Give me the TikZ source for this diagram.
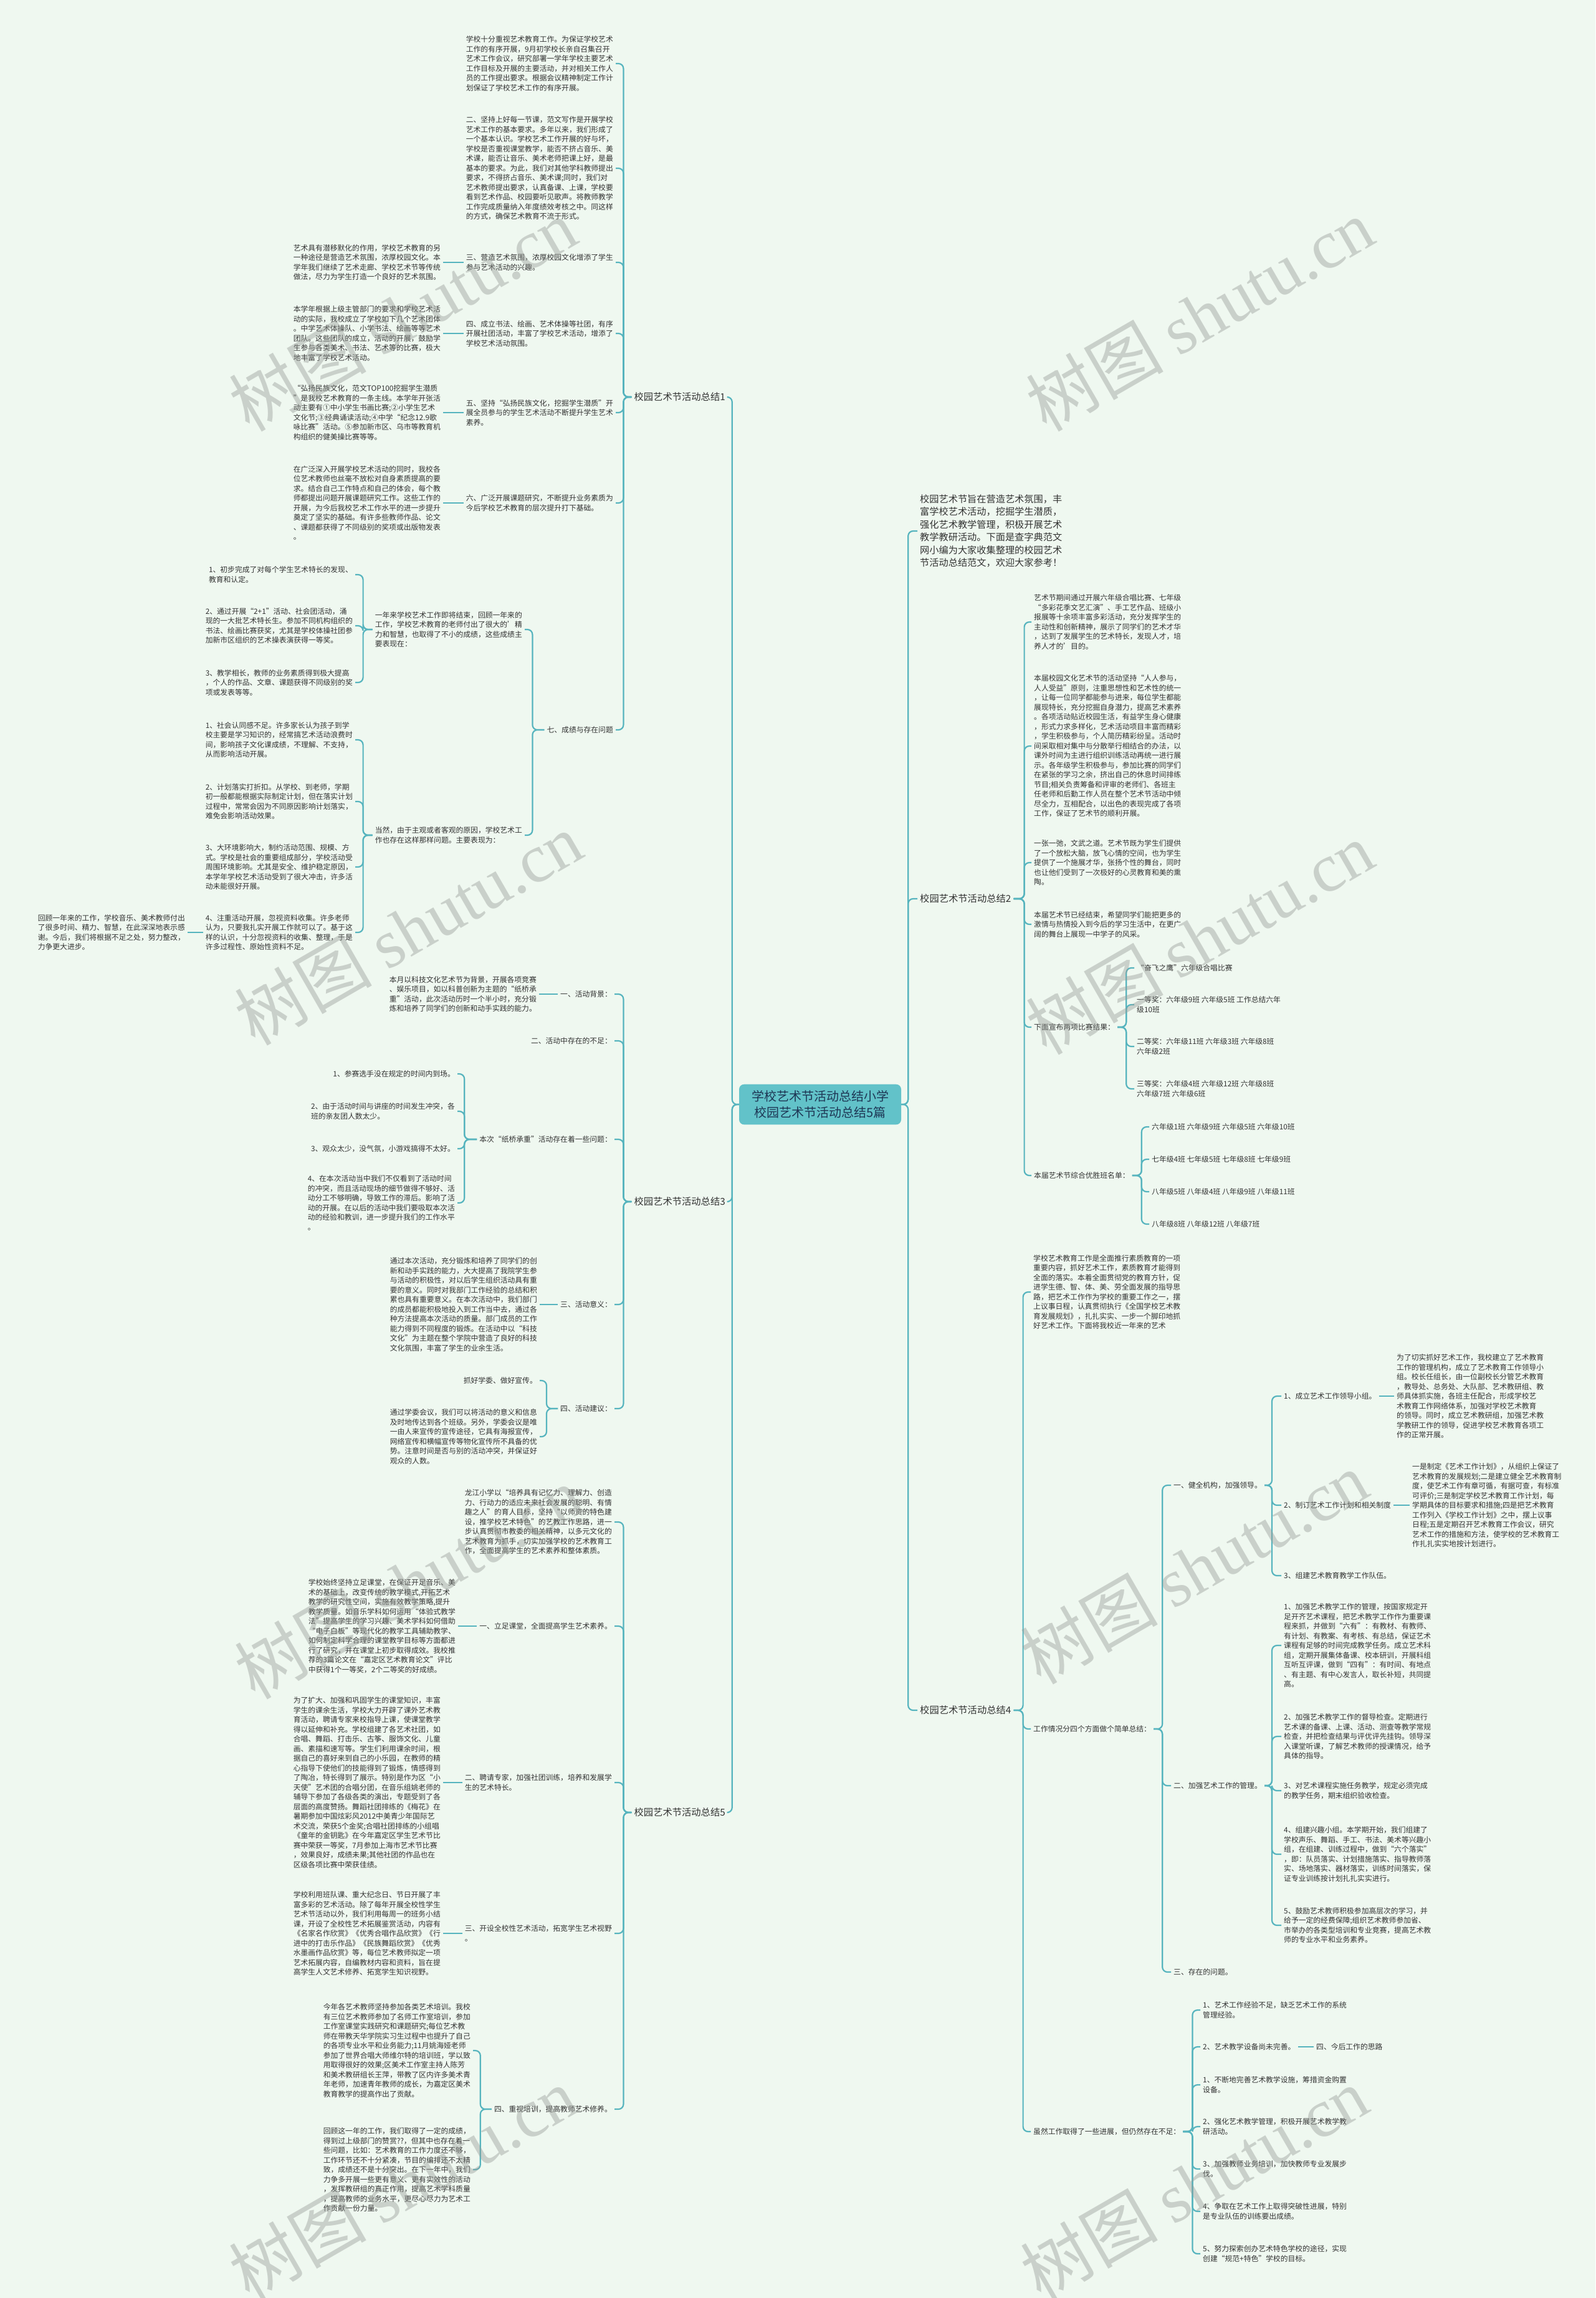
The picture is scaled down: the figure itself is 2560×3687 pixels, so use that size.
\documentclass[tikz,border=0pt]{standalone}
\usepackage{fontspec}
\setmainfont{Noto Sans CJK SC}
\newfontfamily\wmlat{Liberation Serif}
\definecolor{bg}{RGB}{239,248,240}
\definecolor{lc}{RGB}{86,180,190}
\definecolor{tc}{RGB}{51,51,51}
\definecolor{cf}{RGB}{98,194,201}
\definecolor{ct}{RGB}{30,55,85}
\definecolor{wm}{RGB}{150,155,150}
\newcommand\Lk[3]{\draw[conn] (#1.west) -- ++(-#3,0) |- (#2.east);}
\newcommand\Rk[3]{\draw[conn] (#1.east) -- ++(#3,0) |- (#2.west);}
\newcommand\Ls[2]{\draw[conn] (#1.west) -- (#2.east |- #1.west);}
\newcommand\Rs[2]{\draw[conn] (#1.east) -- (#2.west |- #1.east);}
\begin{document}
\begin{tikzpicture}[x=1pt,y=-1pt,
 t/.style={inner sep=4pt, align=left, text=tc, font=\fontsize{11.8}{15.5}\selectfont},
 L/.style={t, anchor=east}, R/.style={t, anchor=west},
 ttl/.style={inner sep=4pt, text=tc, font=\fontsize{15.3}{19}\selectfont},
 conn/.style={draw=lc, line width=2.2pt, rounded corners=8pt},
 wmk/.style={rotate=30, text=wm, text opacity=0.42, font=\fontsize{110}{120}\selectfont}]
\useasboundingbox (0,0) rectangle (2560,3687);
\fill[bg] (0,0) rectangle (2560,3687);

% centre
\node[fill=cf, rounded corners=8pt, inner xsep=20pt, inner ysep=10pt, align=center, text=ct,
  font=\fontsize{20}{26}\selectfont] (M) at (1316,1772) {学校艺术节活动总结小学\\校园艺术节活动总结5篇};

% titles
\node[ttl, anchor=east] (T1) at (1168,637) {校园艺术节活动总结1};
\node[ttl, anchor=east] (T3) at (1168,1928) {校园艺术节活动总结3};
\node[ttl, anchor=east] (T5) at (1168,2908) {校园艺术节活动总结5};
\node[t, anchor=west, font=\fontsize{15.2}{20.5}\selectfont] (IN) at (1472,852) {校园艺术节旨在营造艺术氛围，丰\\富学校艺术活动，挖掘学生潜质，\\强化艺术教学管理，积极开展艺术\\教学教研活动。下面是查字典范文\\网小编为大家收集整理的校园艺术\\节活动总结范文，欢迎大家参考！};
\node[ttl, anchor=west] (T2) at (1472,1442) {校园艺术节活动总结2};
\node[ttl, anchor=west] (T4) at (1472,2744) {校园艺术节活动总结4};

\foreach \n in {T1,T3,T5} {\draw[conn] (M.west) -- ++(-11,0) |- (\n.east);}
\foreach \n in {IN,T2,T4} {\draw[conn] (M.east) -- ++(11,0) |- (\n.west);}

% ---------- branch 1 ----------
\node[L] (A) at (988,102) {学校十分重视艺术教育工作。为保证学校艺术\\工作的有序开展，9月初学校长亲自召集召开\\艺术工作会议，研究部署一学年学校主要艺术\\工作目标及开展的主要活动，并对相关工作人\\员的工作提出要求。根据会议精神制定工作计\\划保证了学校艺术工作的有序开展。};
\node[L] (B) at (988,270) {二、坚持上好每一节课，范文写作是开展学校\\艺术工作的基本要求。多年以来，我们形成了\\一个基本认识。学校艺术工作开展的好与坏，\\学校是否重视课堂教学，能否不挤占音乐、美\\术课，能否让音乐、美术老师把课上好，是最\\基本的要求。为此，我们对其他学科教师提出\\要求，不得挤占音乐、美术课;同时，我们对\\艺术教师提出要求，认真备课、上课，学校要\\看到艺术作品、校园要听见歌声。将教师教学\\工作完成质量纳入年度绩效考核之中。同这样\\的方式，确保艺术教育不流于形式。};
\node[L] (C) at (988,421) {三、营造艺术氛围，浓厚校园文化增添了学生\\参与艺术活动的兴趣。};
\node[L] (D) at (988,535) {四、成立书法、绘画、艺术体操等社团，有序\\开展社团活动，丰富了学校艺术活动，增添了\\学校艺术活动氛围。};
\node[L] (E) at (988,662) {五、坚持“弘扬民族文化，挖掘学生潜质”开\\展全员参与的学生艺术活动不断提升学生艺术\\素养。};
\node[L] (F) at (988,807) {六、广泛开展课题研究，不断提升业务素质为\\今后学校艺术教育的层次提升打下基础。};
\node[L] (G) at (988,1171) {七、成绩与存在问题};
\node[L] (Cc) at (711,421) {艺术具有潜移默化的作用，学校艺术教育的另\\一种途径是营造艺术氛围，浓厚校园文化。本\\学年我们继续了艺术走廊、学校艺术节等传统\\做法，尽力为学生打造一个良好的艺术氛围。};
\node[L] (Dc) at (711,535) {本学年根据上级主管部门的要求和学校艺术活\\动的实际，我校成立了学校如下几个艺术团体\\。中学艺术体操队、小学书法、绘画等等艺术\\团队。这些团队的成立，活动的开展，鼓励学\\生参与各类美术、书法、艺术等的比赛，极大\\地丰富了学校艺术活动。};
\node[L] (Ec) at (711,662) {“弘扬民族文化，范文TOP100挖掘学生潜质\\”是我校艺术教育的一条主线。本学年开张活\\动主要有①中小学生书画比赛;②小学生艺术\\文化节;③经典诵读活动;④中学“纪念12.9歌\\咏比赛”活动。⑤参加新市区、乌市等教育机\\构组织的健美操比赛等等。};
\node[L] (Fc) at (711,807) {在广泛深入开展学校艺术活动的同时，我校各\\位艺术教师也丝毫不放松对自身素质提高的要\\求。结合自己工作特点和自己的体会，每个教\\师都提出问题开展课题研究工作。这些工作的\\开展，为今后我校艺术工作水平的进一步提升\\奠定了坚实的基础。有许多些教师作品、论文\\、课题都获得了不同级别的奖项或出版物发表\\。};
\node[L] (G1) at (842,1010) {一年来学校艺术工作即将结束，回顾一年来的\\工作，学校艺术教育的老师付出了很大的'精\\力和智慧，也取得了不小的成绩，这些成绩主\\要表现在：};
\node[L] (G2) at (842,1340) {当然，由于主观或者客观的原因，学校艺术工\\作也存在这样那样问题。主要表现为：};
\node[L] (G1a) at (570,922) {1、初步完成了对每个学生艺术特长的发现、\\教育和认定。};
\node[L] (G1b) at (570,1004) {2、通过开展“2+1”活动、社会团活动，涌\\现的一大批艺术特长生。参加不同机构组织的\\书法、绘画比赛获奖，尤其是学校体操社团参\\加新市区组织的艺术操表演获得一等奖。};
\node[L] (G1c) at (570,1095) {3、教学相长，教师的业务素质得到极大提高\\，个人的作品、文章、课题获得不同级别的奖\\项或发表等等。};
\node[L] (G2a) at (570,1187) {1、社会认同感不足。许多家长认为孩子到学\\校主要是学习知识的，经常搞艺术活动浪费时\\间，影响孩子文化课成绩，不理解、不支持，\\从而影响活动开展。};
\node[L] (G2b) at (570,1286) {2、计划落实打折扣。从学校、到老师，学期\\初一般都能根据实际制定计划，但在落实计划\\过程中，常常会因为不同原因影响计划落实，\\难免会影响活动效果。};
\node[L] (G2c) at (570,1391) {3、大环境影响大，制约活动范围、规模、方\\式。学校是社会的重要组成部分，学校活动受\\周围环境影响。尤其是安全、维护稳定原因，\\本学年学校艺术活动受到了很大冲击，许多活\\动未能很好开展。};
\node[L] (G2d) at (570,1496) {4、注重活动开展，忽视资料收集。许多老师\\认为，只要我扎实开展工作就可以了。基于这\\样的认识，十分忽视资料的收集、整理，于是\\许多过程性、原始性资料不足。};
\node[L] (G2dc) at (301,1496) {回顾一年来的工作，学校音乐、美术教师付出\\了很多时间、精力、智慧，在此深深地表示感\\谢。今后，我们将根据不足之处，努力整改，\\力争更大进步。};
\foreach \n in {A,B,C,D,E,F,G} {\Lk{T1}{\n}{13}}
\foreach \n in {C,D,E,F} {\Ls{\n}{\n c}}
\Lk{G}{G1}{19} \Lk{G}{G2}{19}
\foreach \n in {G1a,G1b,G1c} {\Lk{G1}{\n}{15}}
\foreach \n in {G2a,G2b,G2c,G2d} {\Lk{G2}{\n}{15}}
\Ls{G2d}{G2dc}

% ---------- branch 3 ----------
\node[L] (H1) at (986,1595) {一、活动背景：};
\node[L] (H1c) at (865,1595) {本月以科技文化艺术节为背景，开展各项竞赛\\、娱乐项目，如以科普创新为主题的“纸桥承\\重”活动，此次活动历时一个半小时，充分锻\\炼和培养了同学们的创新和动手实践的能力。};
\node[L] (H2) at (986,1670) {二、活动中存在的不足：};
\node[L] (H3) at (986,1828) {本次“纸桥承重”活动存在着一些问题：};
\node[L] (H3a) at (734,1723) {1、参赛选手没在规定的时间内到场。};
\node[L] (H3b) at (734,1783) {2、由于活动时间与讲座的时间发生冲突，各\\班的亲友团人数太少。};
\node[L] (H3c) at (734,1843) {3、观众太少，没气氛，小游戏搞得不太好。};
\node[L] (H3d) at (734,1930) {4、在本次活动当中我们不仅看到了活动时间\\的冲突，而且活动现场的细节做得不够好、活\\动分工不够明确，导致工作的滞后。影响了活\\动的开展。在以后的活动中我们要吸取本次活\\动的经验和教训，进一步提升我们的工作水平\\。};
\node[L] (H4) at (986,2093) {三、活动意义：};
\node[L] (H4c) at (866,2093) {通过本次活动，充分锻炼和培养了同学们的创\\新和动手实践的能力，大大提高了我院学生参\\与活动的积极性，对以后学生组织活动具有重\\要的意义。同时对我部门工作经验的总结和积\\累也具有重要意义。在本次活动中，我们部门\\的成员都能积极地投入到工作当中去，通过各\\种方法提高本次活动的质量。部门成员的工作\\能力得到不同程度的锻炼。在活动中以“科技\\文化”为主题在整个学院中营造了良好的科技\\文化氛围，丰富了学生的业余生活。};
\node[L] (H5) at (986,2260) {四、活动建议：};
\node[L] (H5a) at (866,2215) {抓好学委、做好宣传。};
\node[L] (H5b) at (866,2305) {通过学委会议，我们可以将活动的意义和信息\\及时地传达到各个班级。另外，学委会议是唯\\一由人来宣传的宣传途径，它具有海报宣传，\\网络宣传和横幅宣传等物化宣传所不具备的优\\势。注意时间是否与别的活动冲突，并保证好\\观众的人数。};
\foreach \n in {H1,H2,H3,H4,H5} {\Lk{T3}{\n}{13}}
\Ls{H1}{H1c} \Ls{H4}{H4c}
\foreach \n in {H3a,H3b,H3c,H3d} {\Lk{H3}{\n}{20}}
\foreach \n in {H5a,H5b} {\Lk{H5}{\n}{18}}

% ---------- branch 5 ----------
\node[L] (I0) at (986,2442) {龙江小学以“培养具有记忆力、理解力、创造\\力、行动力的适应未来社会发展的聪明、有情\\趣之人”的育人目标，坚持“以师资的特色建\\设，推学校艺术特色”的艺教工作思路，进一\\步认真贯彻市教委的相关精神，以多元文化的\\艺术教育为抓手，切实加强学校的艺术教育工\\作，全面提高学生的艺术素养和整体素质。};
\node[L] (I1) at (986,2609) {一、立足课堂，全面提高学生艺术素养。};
\node[L] (I1c) at (735,2609) {学校始终坚持立足课堂，在保证开足音乐、美\\术的基础上，改变传统的教学模式,开拓艺术\\教学的研究性空间，实施有效教学策略,提升\\教学质量。如音乐学科如何运用“体验式教学\\法”提高学生的学习兴趣、美术学科如何借助\\“电子白板”等现代化的教学工具辅助教学、\\如何制定科学合理的课堂教学目标等方面都进\\行了研究，并在课堂上初步取得成效。我校推\\荐的3篇论文在“嘉定区艺术教育论文”评比\\中获得1个一等奖，2个二等奖的好成绩。};
\node[L] (I2) at (986,2860) {二、聘请专家，加强社团训练，培养和发展学\\生的艺术特长。};
\node[L] (I2c) at (711,2860) {为了扩大、加强和巩固学生的课堂知识，丰富\\学生的课余生活，学校大力开辟了课外艺术教\\育活动，聘请专家来校指导上课，使课堂教学\\得以延伸和补充。学校组建了各艺术社团，如\\合唱、舞蹈、打击乐、古筝、服饰文化、儿童\\画、素描和速写等。学生们利用课余时间，根\\据自己的喜好来到自己的小乐园，在教师的精\\心指导下使他们的技能得到了锻炼，情感得到\\了陶冶，特长得到了展示。特别是作为区“小\\天使”艺术团的合唱分团，在音乐组姚老师的\\辅导下参加了各级各类的演出，专题受到了各\\层面的高度赞扬。舞蹈社团排练的《梅花》在\\暑期参加中国炫彩风2012中美青少年国际艺\\术交流，荣获5个金奖;合唱社团排练的小组唱\\《童年的金钥匙》在今年嘉定区学生艺术节比\\赛中荣获一等奖，7月参加上海市艺术节比赛\\，效果良好，成绩未果;其他社团的作品也在\\区级各项比赛中荣获佳绩。};
\node[L] (I3) at (986,3102) {三、开设全校性艺术活动，拓宽学生艺术视野\\。};
\node[L] (I3c) at (711,3102) {学校利用班队课、重大纪念日、节日开展了丰\\富多彩的艺术活动。除了每年开展全校性学生\\艺术节活动以外，我们利用每周一的班务小结\\课，开设了全校性艺术拓展鉴赏活动，内容有\\《名家名作欣赏》《优秀合唱作品欣赏》《行\\进中的打击乐作品》《民族舞蹈欣赏》《优秀\\水墨画作品欣赏》等，每位艺术教师拟定一项\\艺术拓展内容，自编教材内容和资料，旨在提\\高学生人文艺术修养、拓宽学生知识视野。};
\node[L] (I4) at (986,3384) {四、重视培训，提高教师艺术修养。};
\node[L] (I4a) at (759,3290) {今年各艺术教师坚持参加各类艺术培训。我校\\有三位艺术教师参加了名师工作室培训，参加\\工作室课堂实践研究和课题研究;每位艺术教\\师在带教天华学院实习生过程中也提升了自己\\的各项专业水平和业务能力;11月姚海娅老师\\参加了世界合唱大师维尔特的培训班，学以致\\用取得很好的效果;区美术工作室主持人陈芳\\和美术教研组长王萍，带教了区内许多美术青\\年老师，加速青年教师的成长，为嘉定区美术\\教育教学的提高作出了贡献。};
\node[L] (I4b) at (759,3481) {回顾这一年的工作，我们取得了一定的成绩，\\得到过上级部门的赞赏??，但其中也存在着一\\些问题，比如：艺术教育的工作力度还不够，\\工作环节还不十分紧凑，节目的编排还不太精\\致，成绩还不是十分突出。在下一年中，我们\\力争多开展一些更有意义、更有实效性的活动\\，发挥教研组的真正作用，提高艺术学科质量\\，提高教师的业务水平，更尽心尽力为艺术工\\作贡献一份力量。};
\foreach \n in {I0,I1,I2,I3,I4} {\Lk{T5}{\n}{13}}
\Ls{I1}{I1c} \Ls{I2}{I2c} \Ls{I3}{I3c}
\foreach \n in {I4a,I4b} {\Lk{I4}{\n}{18}}

% ---------- branch 2 ----------
\node[R] (J1) at (1655,998) {艺术节期间通过开展六年级合唱比赛、七年级\\“多彩花季文艺汇演”、手工艺作品、班级小\\报展等十余项丰富多彩活动，充分发挥学生的\\主动性和创新精神，展示了同学们的艺术才华\\，达到了发展学生的艺术特长，发现人才，培\\养人才的'目的。};
\node[R] (J2) at (1655,1197) {本届校园文化艺术节的活动坚持“人人参与，\\人人受益”原则，注重思想性和艺术性的统一\\，让每一位同学都能参与进来，每位学生都能\\展现特长，充分挖掘自身潜力，提高艺术素养\\。各项活动贴近校园生活，有益学生身心健康\\，形式力求多样化，艺术活动项目丰富而精彩\\，学生积极参与，个人简历精彩纷呈。活动时\\间采取相对集中与分散举行相结合的办法，以\\课外时间为主进行组织训练活动再统一进行展\\示。各年级学生积极参与，参加比赛的同学们\\在紧张的学习之余，挤出自己的休息时间排练\\节目;相关负责筹备和评审的老师们、各班主\\任老师和后勤工作人员在整个艺术节活动中倾\\尽全力，互相配合，以出色的表现完成了各项\\工作，保证了艺术节的顺利开展。};
\node[R] (J3) at (1655,1384) {一张一弛，文武之道。艺术节既为学生们提供\\了一个放松大脑，放飞心情的空间，也为学生\\提供了一个施展才华，张扬个性的舞台，同时\\也让他们受到了一次极好的心灵教育和美的熏\\陶。};
\node[R] (J4) at (1655,1483) {本届艺术节已经结束，希望同学们能把更多的\\激情与热情投入到今后的学习生活中，在更广\\阔的舞台上展现一中学子的风采。};
\node[R] (J5) at (1655,1648) {下面宣布两项比赛结果：};
\node[R] (J5a) at (1820,1553) {“奋飞之鹰”六年级合唱比赛};
\node[R] (J5b) at (1820,1612) {一等奖：六年级9班 六年级5班 工作总结六年\\级10班};
\node[R] (J5c) at (1820,1679) {二等奖：六年级11班 六年级3班 六年级8班\\六年级2班};
\node[R] (J5d) at (1820,1747) {三等奖：六年级4班 六年级12班 六年级8班\\六年级7班 六年级6班};
\node[R] (J6) at (1655,1886) {本届艺术节综合优胜班名单：};
\node[R] (J6a) at (1844,1808) {六年级1班 六年级9班 六年级5班 六年级10班};
\node[R] (J6b) at (1844,1860) {七年级4班 七年级5班 七年级8班 七年级9班};
\node[R] (J6c) at (1844,1912) {八年级5班 八年级4班 八年级9班 八年级11班};
\node[R] (J6d) at (1844,1964) {八年级8班 八年级12班 八年级7班};
\foreach \n in {J1,J2,J3,J4,J5,J6} {\Rk{T2}{\n}{17}}
\foreach \n in {J5a,J5b,J5c,J5d} {\Rk{J5}{\n}{14}}
\foreach \n in {J6a,J6b,J6c,J6d} {\Rk{J6}{\n}{15}}

% ---------- branch 4 ----------
\node[R] (K0) at (1654,2073) {学校艺术教育工作是全面推行素质教育的一项\\重要内容，抓好艺术工作，素质教育才能得到\\全面的落实。本着全面贯彻党的教育方针，促\\进学生德、智、体、美、劳全面发展的指导思\\路，把艺术工作作为学校的重要工作之一，摆\\上议事日程，认真贯彻执行《全国学校艺术教\\育发展规划》，扎扎实实、一步一个脚印地抓\\好艺术工作。下面将我校近一年来的艺术};
\node[R] (K1) at (1654,2774) {工作情况分四个方面做个简单总结：};
\node[R] (K1a) at (1879,2383) {一、健全机构，加强领导。};
\node[R] (K1a1) at (2056,2240) {1、成立艺术工作领导小组。};
\node[R] (K1a1c) at (2237,2240) {为了切实抓好艺术工作，我校建立了艺术教育\\工作的管理机构，成立了艺术教育工作领导小\\组。校长任组长，由一位副校长分管艺术教育\\，教导处、总务处、大队部、艺术教研组、教\\师具体抓实施，各班主任配合，形成学校艺\\术教育工作网络体系，加强对学校艺术教育\\的领导。同时，成立艺术教研组，加强艺术教\\学教研工作的领导，促进学校艺术教育各项工\\作的正常开展。};
\node[R] (K1a2) at (2056,2415) {2、制订艺术工作计划和相关制度};
\node[R] (K1a2c) at (2262,2415) {一是制定《艺术工作计划》，从组织上保证了\\艺术教育的发展规划;二是建立健全艺术教育制\\度，使艺术工作有章可循，有据可查，有标准\\可评价;三是制定学校艺术教育工作计划，每\\学期具体的目标要求和措施;四是把艺术教育\\工作列入《学校工作计划》之中，摆上议事\\日程;五是定期召开艺术教育工作会议，研究\\艺术工作的措施和方法，使学校的艺术教育工\\作扎扎实实地按计划进行。};
\node[R] (K1a3) at (2056,2528) {3、组建艺术教育教学工作队伍。};
\node[R] (K1b) at (1879,2865) {二、加强艺术工作的管理。};
\node[R] (K1b1) at (2056,2640) {1、加强艺术教学工作的管理，按国家规定开\\足开齐艺术课程，把艺术教学工作作为重要课\\程来抓，并做到“六有”：有教材、有教师、\\有计划、有教案、有考核、有总结，保证艺术\\课程有足够的时间完成教学任务。成立艺术科\\组，定期开展集体备课、校本研训，开展科组\\互听互评课，做到“四有”：有时间、有地点\\、有主题、有中心发言人，取长补短，共同提\\高。};
\node[R] (K1b2) at (2056,2786) {2、加强艺术教学工作的督导检查。定期进行\\艺术课的备课、上课、活动、测查等教学常规\\检查，并把检查结果与评优评先挂钩。领导深\\入课堂听课，了解艺术教师的授课情况，给予\\具体的指导。};
\node[R] (K1b3) at (2056,2873) {3、对艺术课程实施任务教学，规定必须完成\\的教学任务，期末组织验收检查。};
\node[R] (K1b4) at (2056,2975) {4、组建兴趣小组。本学期开始，我们组建了\\学校声乐、舞蹈、手工、书法、美术等兴趣小\\组，在组建、训练过程中，做到“六个落实”\\，即：队员落实、计划措施落实、指导教师落\\实、场地落实、器材落实，训练时间落实，保\\证专业训练按计划扎扎实实进行。};
\node[R] (K1b5) at (2056,3089) {5、鼓励艺术教师积极参加高层次的学习，并\\给予一定的经费保障;组织艺术教师参加省、\\市举办的各类型培训和专业竞赛，提高艺术教\\师的专业水平和业务素养。};
\node[R] (K1c) at (1879,3164) {三、存在的问题。};
\node[R] (K2) at (1654,3420) {虽然工作取得了一些进展，但仍然存在不足：};
\node[R] (K2a) at (1926,3225) {1、艺术工作经验不足，缺乏艺术工作的系统\\管理经验。};
\node[R] (K2b) at (1926,3284) {2、艺术教学设备尚未完善。};
\node[R] (K2bc) at (2108,3284) {四、今后工作的思路};
\node[R] (K2c) at (1926,3345) {1、不断地完善艺术教学设施，筹措资金购置\\设备。};
\node[R] (K2d) at (1926,3412) {2、强化艺术教学管理，积极开展艺术教学教\\研活动。};
\node[R] (K2e) at (1926,3480) {3、加强教师业务培训，加快教师专业发展步\\伐。};
\node[R] (K2f) at (1926,3548) {4、争取在艺术工作上取得突破性进展，特别\\是专业队伍的训练要出成绩。};
\node[R] (K2g) at (1926,3616) {5、努力探索创办艺术特色学校的途径，实现\\创建“规范+特色”学校的目标。};
\foreach \n in {K0,K1,K2} {\Rk{T4}{\n}{15}}
\foreach \n in {K1a,K1b,K1c} {\Rk{K1}{\n}{14}}
\foreach \n in {K1a1,K1a2,K1a3} {\Rk{K1a}{\n}{12}}
\Rs{K1a1}{K1a1c} \Rs{K1a2}{K1a2c}
\foreach \n in {K1b1,K1b2,K1b3,K1b4,K1b5} {\Rk{K1b}{\n}{12}}
\foreach \n in {K2a,K2b,K2c,K2d,K2e,K2f,K2g} {\Rk{K2}{\n}{15}}
\Rs{K2b}{K2bc}

% watermarks
\foreach \x/\y in {646/505,1925/505,655/1490,1925/1505,655/2539,1916/2515,646/3503,1916/3503}
  {\node[wmk] at (\x,\y) {树图 {\wmlat shutu.cn}};}
\end{tikzpicture}
\end{document}
